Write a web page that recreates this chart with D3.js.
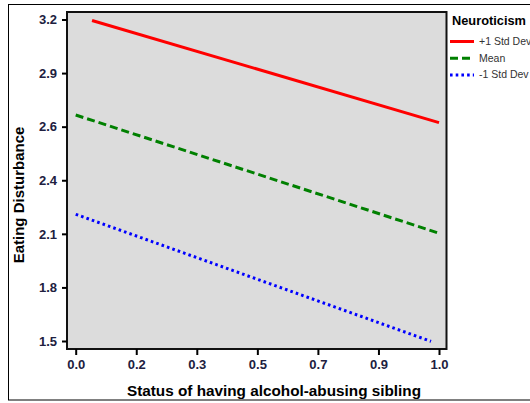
<!DOCTYPE html>
<html>
<head>
<meta charset="utf-8">
<script src="https://cdn.jsdelivr.net/npm/d3@7"></script>
<style>
  html, body { margin: 0; padding: 0; background: #fff; }
  svg { display: block; font-family: "Liberation Sans", Arial, sans-serif; }
</style>
</head>
<body>
<svg id="chart" width="530" height="403"></svg>
<script>
// Simple slopes of eating disturbance by sibling status at three neuroticism levels
const seriesNames = ["+1 Std Dev", "Mean", "-1 Std Dev"];
const seriesColors = ["#ff0000", "#008000", "#0000ff"];
const seriesDash = [null, "8 4", "2.6 3.1"];
// each line: [status, eating disturbance] at its two ends
const highNeuro = [[0.045, 3.195], [1.0, 2.655]];
const meanNeuro = [[0.0, 2.695], [1.0, 2.07]];
const lowNeuro = [[0.0, 2.17], [0.978, 1.498]];

const xDomain = [0, 1];
const yDomain = [1.5, 3.2];
const xTickLabels = ["0.0", "0.2", "0.3", "0.5", "0.7", "0.9", "1.0"];
const yTickLabels = ["1.5", "1.8", "2.1", "2.4", "2.6", "2.9", "3.2"];

const svg = d3.select("#chart");

// outer frame
svg.append("rect")
  .attr("x", 8.5).attr("y", 4.5)
  .attr("width", 540).attr("height", 395.5)
  .attr("fill", "none").attr("stroke", "#000").attr("stroke-width", 1);

const plot = { left: 67, top: 12, right: 446.5, bottom: 349 };

const x = d3.scaleLinear().domain(xDomain).range([75.7, 439]);
const y = d3.scaleLinear().domain(yDomain).range([341, 19.5]);

// plot background
svg.append("rect")
  .attr("x", plot.left).attr("y", plot.top)
  .attr("width", plot.right - plot.left).attr("height", plot.bottom - plot.top)
  .attr("fill", "#dcdcdc").attr("stroke", "#111").attr("stroke-width", 2);

const xTicks = d3.range(xTickLabels.length).map(i => xDomain[0] + i * (xDomain[1] - xDomain[0]) / (xTickLabels.length - 1));
const yTicks = d3.range(yTickLabels.length).map(i => yDomain[0] + i * (yDomain[1] - yDomain[0]) / (yTickLabels.length - 1));

const xAxis = d3.axisBottom(x)
  .tickValues(xTicks)
  .tickFormat((d, i) => xTickLabels[i])
  .tickSize(6).tickPadding(5);
const yAxis = d3.axisLeft(y)
  .tickValues(yTicks)
  .tickFormat((d, i) => yTickLabels[i])
  .tickSize(5).tickPadding(5);

const gx = svg.append("g").attr("transform", `translate(0,${plot.bottom})`).call(xAxis);
const gy = svg.append("g").attr("transform", `translate(${plot.left},0)`).call(yAxis);
[gx, gy].forEach(g => {
  g.select(".domain").remove();
  g.selectAll(".tick line").attr("stroke", "#000").attr("stroke-width", 2);
  g.selectAll(".tick text")
    .attr("fill", "#202040")
    .style("font-size", "13px")
    .style("font-weight", "bold")
    .style("font-family", "'Liberation Sans', Arial, sans-serif");
});

// data lines
const line = d3.line().x(d => x(d[0])).y(d => y(d[1]));
[highNeuro, meanNeuro, lowNeuro].forEach((data, i) => {
  svg.append("path")
    .datum(data)
    .attr("d", line)
    .attr("fill", "none")
    .attr("stroke", seriesColors[i])
    .attr("stroke-width", 3)
    .attr("stroke-dasharray", seriesDash[i]);
});

// axis titles
svg.append("text")
  .attr("x", 274).attr("y", 396)
  .attr("text-anchor", "middle")
  .style("font-size", "15.3px").style("font-weight", "bold")
  .attr("fill", "#000")
  .text("Status of having alcohol-abusing sibling");

svg.append("text")
  .attr("transform", "translate(24,195) rotate(-90)")
  .attr("text-anchor", "middle")
  .style("font-size", "15px").style("font-weight", "bold")
  .attr("fill", "#000")
  .text("Eating Disturbance");

// legend
const legend = svg.append("g");
legend.append("text")
  .attr("x", 452).attr("y", 25)
  .style("font-size", "12.8px").style("font-weight", "bold")
  .attr("fill", "#000")
  .text("Neuroticism");
seriesNames.forEach((name, i) => {
  const ly = 41.5 + i * 16.7;
  legend.append("line")
    .attr("x1", 450).attr("x2", 474)
    .attr("y1", ly).attr("y2", ly)
    .attr("stroke", seriesColors[i])
    .attr("stroke-width", 3)
    .attr("stroke-dasharray", seriesDash[i]);
  legend.append("text")
    .attr("x", 479).attr("y", ly + 3.5)
    .style("font-size", "10.5px")
    .attr("fill", "#333")
    .text(name);
});
</script>
</body>
</html>
